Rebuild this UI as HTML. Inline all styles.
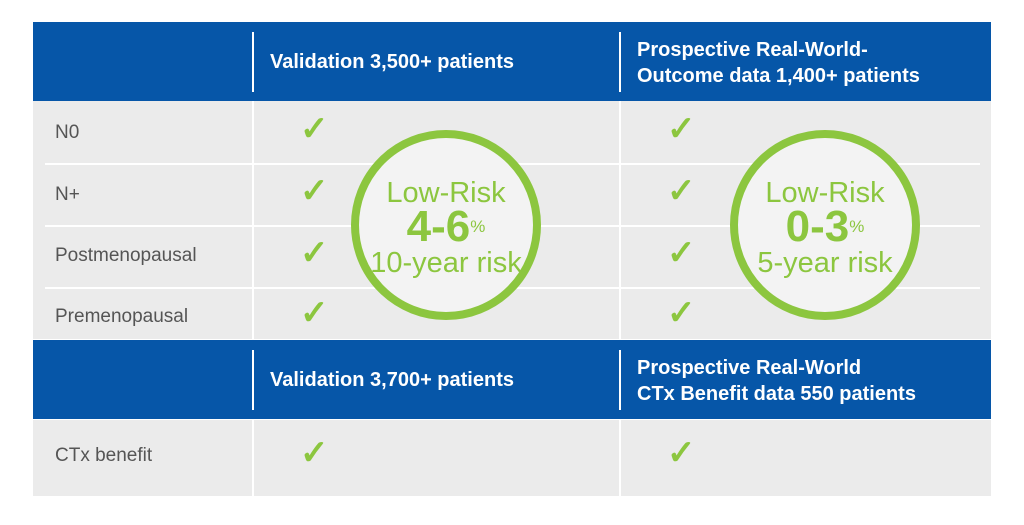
<!DOCTYPE html>
<html><head><style>
body{margin:0;width:1024px;height:525px;background:#fff;position:relative;overflow:hidden;font-family:"Liberation Sans",sans-serif}
.a{position:absolute}
.blue{background:#0656a8}
.gray{background:#ebebeb}
.hl{color:#fff;font-size:20px;font-weight:bold;line-height:26px}
.lb{color:#555;font-size:19px}
.ck{color:#8cc63f;font-size:34px;font-weight:bold;line-height:34px}
.vl{background:#fff;width:2px}
.hr{background:#fff;height:2px}
.circ{border:8px solid #8cc63f;border-radius:50%;width:174px;height:174px;background:#f3f3f3;color:#8cc63f;text-align:center}
.circ div{white-space:nowrap}
</style></head><body>
<div class="a blue" style="left:33px;top:22px;width:958px;height:79px"></div>
<div class="a gray" style="left:33px;top:101px;width:958px;height:238px"></div>
<div class="a blue" style="left:33px;top:340px;width:958px;height:79px"></div>
<div class="a gray" style="left:33px;top:420px;width:958px;height:76px"></div>
<div class="a vl" style="left:252px;top:32px;height:60px"></div>
<div class="a vl" style="left:619px;top:32px;height:60px"></div>
<div class="a vl" style="left:252px;top:350px;height:60px"></div>
<div class="a vl" style="left:619px;top:350px;height:60px"></div>
<div class="a vl" style="left:252px;top:101px;height:238px"></div>
<div class="a vl" style="left:619px;top:101px;height:238px"></div>
<div class="a vl" style="left:252px;top:420px;height:76px"></div>
<div class="a vl" style="left:619px;top:420px;height:76px"></div>
<div class="a hr" style="left:45px;top:163px;width:935px"></div>
<div class="a hr" style="left:45px;top:225px;width:935px"></div>
<div class="a hr" style="left:45px;top:287px;width:935px"></div>
<div class="a hl" style="left:270px;top:49px">Validation 3,500+ patients</div>
<div class="a hl" style="left:637px;top:37px">Prospective Real-World-<br>Outcome data 1,400+ patients</div>
<div class="a hl" style="left:270px;top:367px">Validation 3,700+ patients</div>
<div class="a hl" style="left:637px;top:355px">Prospective Real-World<br>CTx Benefit data 550 patients</div>
<div class="a lb" style="left:55px;top:122px">N0</div>
<div class="a lb" style="left:55px;top:184px">N+</div>
<div class="a lb" style="left:55px;top:245px">Postmenopausal</div>
<div class="a lb" style="left:55px;top:306px">Premenopausal</div>
<div class="a lb" style="left:55px;top:445px">CTx benefit</div>
<div class="a ck" style="left:300px;top:112px">✓</div>
<div class="a ck" style="left:300px;top:174px">✓</div>
<div class="a ck" style="left:300px;top:236px">✓</div>
<div class="a ck" style="left:300px;top:296px">✓</div>
<div class="a ck" style="left:300px;top:436px">✓</div>
<div class="a ck" style="left:667px;top:112px">✓</div>
<div class="a ck" style="left:667px;top:174px">✓</div>
<div class="a ck" style="left:667px;top:236px">✓</div>
<div class="a ck" style="left:667px;top:296px">✓</div>
<div class="a ck" style="left:667px;top:436px">✓</div>
<div class="a circ" style="left:351px;top:130px"><div style="margin-top:40px;font-size:29px;line-height:30px">Low-Risk</div><div style="font-size:44px;line-height:38px;font-weight:bold">4-6<span style="font-size:17px;vertical-align:top;font-weight:normal">%</span></div><div style="font-size:29px;line-height:34px">10-year risk</div></div>
<div class="a circ" style="left:730px;top:130px"><div style="margin-top:40px;font-size:29px;line-height:30px">Low-Risk</div><div style="font-size:44px;line-height:38px;font-weight:bold">0-3<span style="font-size:17px;vertical-align:top;font-weight:normal">%</span></div><div style="font-size:29px;line-height:34px">5-year risk</div></div>
</body></html>
